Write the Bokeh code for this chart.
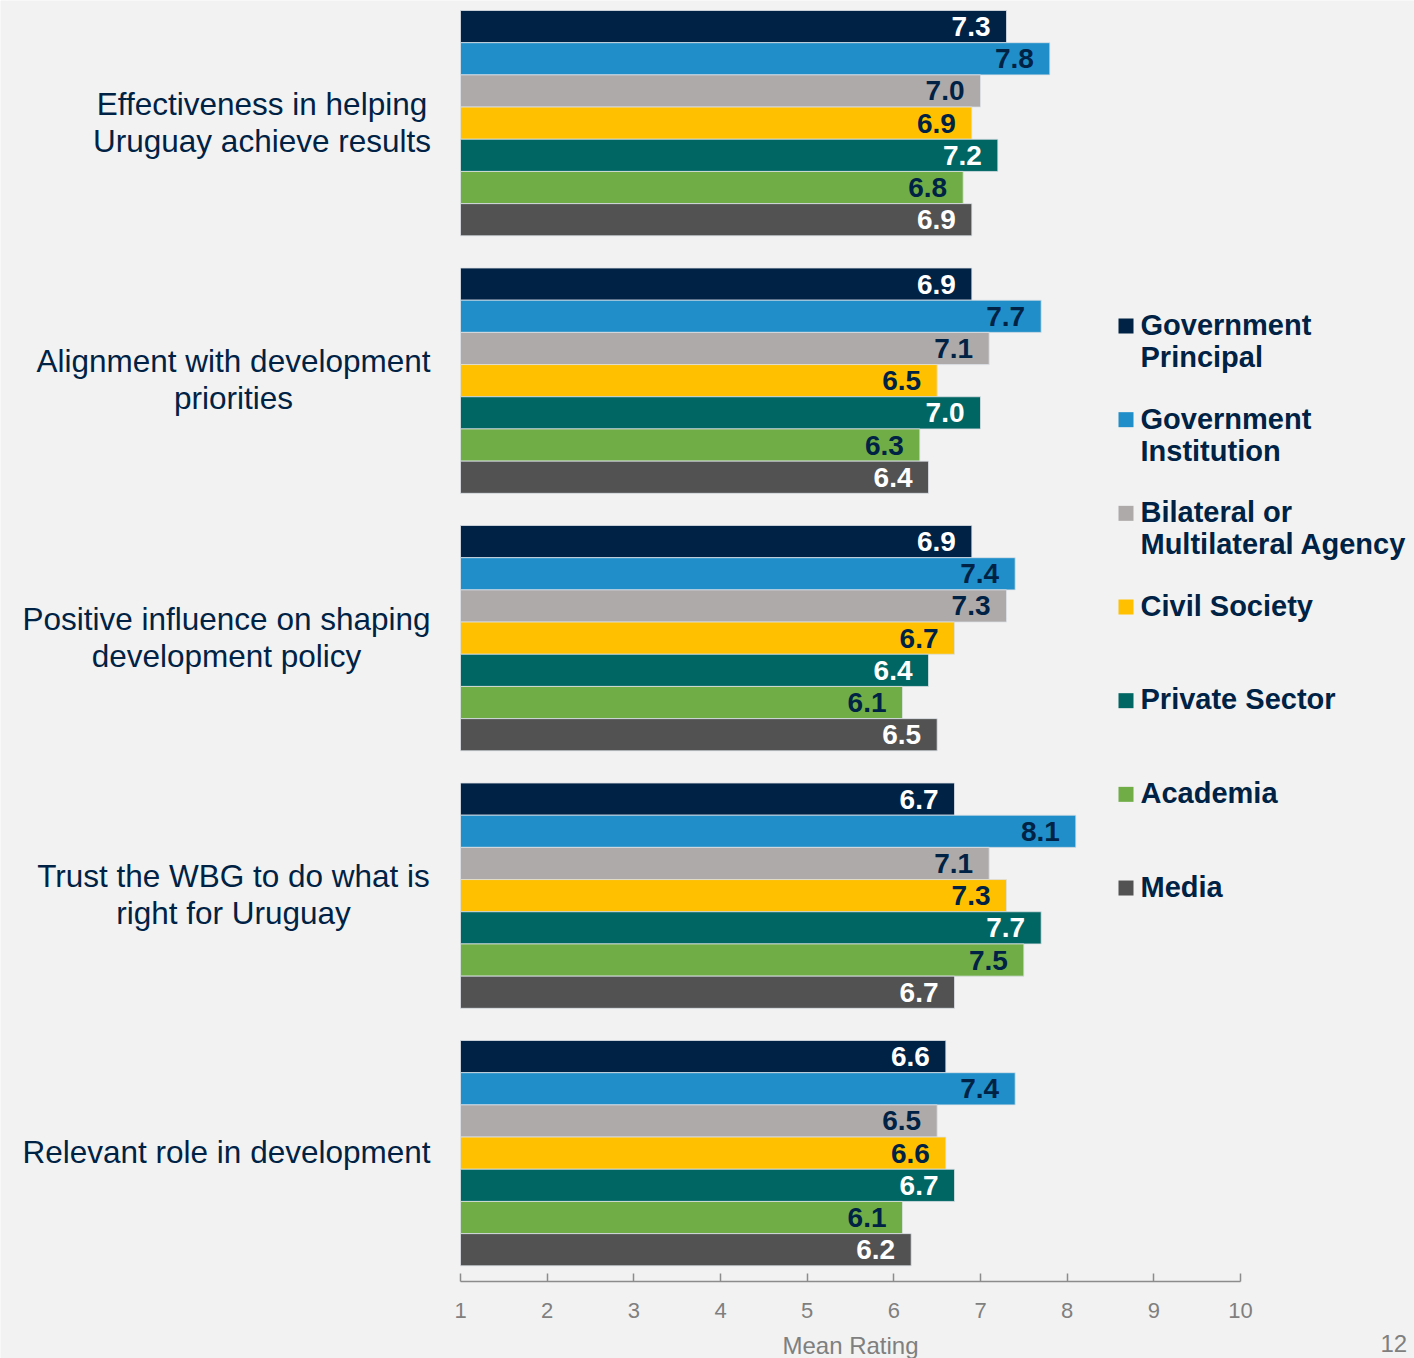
from bokeh.plotting import figure
from bokeh.models import Range1d, FixedTicker
from bokeh.embed import file_html
from bokeh.resources import INLINE
from bokeh.core.properties import value

# ---------------- data ----------------
categories = [
    "Effectiveness in helping\nUruguay achieve results",
    "Alignment with development\npriorities",
    "Positive influence on shaping\ndevelopment policy",
    "Trust the WBG to do what is\nright for Uruguay",
    "Relevant role in development",
]
series = ["Government\nPrincipal", "Government\nInstitution", "Bilateral or\nMultilateral Agency",
          "Civil Society", "Private Sector", "Academia", "Media"]
gov_principal = [7.3, 6.9, 6.9, 6.7, 6.6]
gov_institution = [7.8, 7.7, 7.4, 8.1, 7.4]
bilateral_multilateral = [7.0, 7.1, 7.3, 7.1, 6.5]
civil_society = [6.9, 6.5, 6.7, 7.3, 6.6]
private_sector = [7.2, 7.0, 6.4, 7.7, 6.7]
academia = [6.8, 6.3, 6.1, 7.5, 6.1]
media = [6.9, 6.4, 6.5, 6.7, 6.2]
x_ticks = [1, 2, 3, 4, 5, 6, 7, 8, 9, 10]
x_label = "Mean Rating"
page_number = "12"

series_values = [gov_principal, gov_institution, bilateral_multilateral, civil_society,
                 private_sector, academia, media]

# ---------------- style ----------------
colors = ["#002245", "#208FC9", "#AEAAAA", "#FFC000", "#006663", "#70AD47", "#525252"]
label_colors = ["#FFFFFF", "#002245", "#002245", "#002245", "#FFFFFF", "#002245", "#FFFFFF"]
NAVY = "#002245"
BG = "#F2F2F2"
GREY = "#7F7F7F"

W, H = 1414, 1358
# picture px -> data helpers for layout
PPX = 780 / 9.0
PPY = 257.5 / 8.0


def dx(s):
    return 1 + (s - 460) / PPX


def dy(s):
    return -0.5 + (s - 10) / PPY


p = figure(width=W, height=H, output_backend="svg", toolbar_location=None,
           x_range=Range1d(dx(0), dx(W)), y_range=Range1d(dy(H), dy(0)),
           y_axis_location=None, min_border_left=0, min_border_right=0,
           min_border_top=0, min_border_bottom=0)
p.background_fill_color = BG
p.border_fill_color = BG
p.outline_line_color = None
p.grid.visible = False

# bars
n_series = len(series_values)
for j, vals in enumerate(series_values):
    ys = [g * (n_series + 1) + j for g in range(len(categories))]
    p.hbar(y=ys, left=x_ticks[0], right=vals, height=1.0, fill_color=colors[j],
           line_color="#DCE1E6", line_width=0.8)
    p.text(x=vals, y=ys, text=["%.1f" % v for v in vals], x_offset=-16,
           text_align="right", text_baseline="middle", text_color=label_colors[j],
           text_font=value("Liberation Sans"), text_font_style="bold", text_font_size="28px")

# category labels (centred lines, right edge at the plot's left)
cat_centers_px = [261.5, 233, 226, 233, 226]
p.text(x=[dx(c) for c in cat_centers_px],
       y=[g * (n_series + 1) + (n_series - 1) / 2 - 0.03 for g in range(len(categories))],
       text=categories, text_align="center", text_baseline="middle", text_color=NAVY,
       text_font=value("Liberation Sans"), text_font_size="31.5px", text_line_height=1.03)

# legend
leg_first = 325.0
leg_pitch = 93.67
line_px = 33
for k, name in enumerate(series):
    cy = leg_first + k * leg_pitch
    p.scatter(x=[dx(1125.5)], y=[dy(cy + 0.5)], marker="square", size=15,
              fill_color=colors[k], line_color=None)
    nl = name.count("\n") + 1
    p.text(x=[dx(1140)], y=[dy(cy - 1 + (nl - 1) * line_px / 2)], text=[name],
           text_align="left", text_baseline="middle", text_color=NAVY,
           text_font=value("Liberation Sans"), text_font_style="bold",
           text_font_size="29px", text_line_height=1.0)

# axis (drawn at a fixed place inside the canvas)
ax = p.xaxis[0]
ax.fixed_location = dy(1281)
ax.ticker = FixedTicker(ticks=x_ticks)
ax.bounds = (x_ticks[0], x_ticks[-1])
ax.axis_line_color = "#8C8C8C"
ax.axis_line_width = 1.5
ax.major_tick_line_color = "#8C8C8C"
ax.major_tick_line_width = 1.5
ax.major_tick_in = 8
ax.major_tick_out = 0
ax.minor_tick_line_color = None
ax.major_label_standoff = 21
ax.major_label_text_font = "Liberation Sans"
ax.major_label_text_font_size = "22px"
ax.major_label_text_color = GREY

# axis title and page number
p.text(x=[dx(850)], y=[dy(1345)], text=[x_label], text_align="center", text_baseline="middle",
       text_color=GREY, text_font=value("Liberation Sans"), text_font_size="24px")
p.text(x=[dx(1380)], y=[dy(1334)], text=[page_number], text_align="left", text_baseline="top",
       text_color=GREY, text_font=value("Liberation Sans"), text_font_size="24px")

open("out.html", "w").write(file_html(p, INLINE))
